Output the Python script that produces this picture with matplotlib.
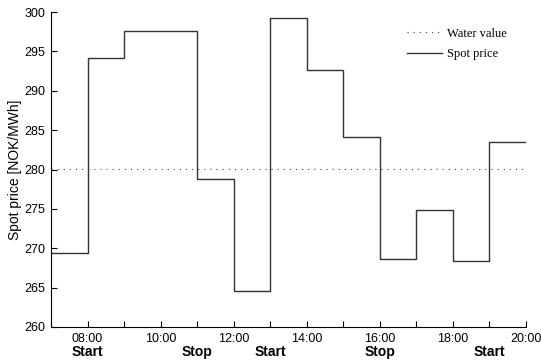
import numpy as np
import matplotlib
matplotlib.use("Agg")
import matplotlib.pyplot as plt

# hourly spot price (start of each hour) and the water value
hours = [7, 8, 9, 10, 11, 12, 13, 14, 15, 16, 17, 18, 19]
prices = [269.4, 294.2, 297.6, 297.6, 278.8, 264.6, 299.3, 292.7, 284.1, 268.6, 274.9, 268.4, 283.5]
water_value = 280.1

tick_hours = [8, 10, 12, 14, 16, 18, 20]
events = [(8, "Start"), (11, "Stop"), (13, "Start"), (16, "Stop"), (19, "Start")]

plt.rcParams["font.family"] = ["Liberation Sans", "DejaVu Sans"]

fig = plt.figure(figsize=(5.41, 3.62), dpi=100)
ax = fig.add_axes([0.0943, 0.0967, 0.878, 0.870])

ax.axhline(water_value, color="#444444", linestyle=(0, (1, 4.5)), linewidth=0.8, label="Water value")
ax.step(hours + [20], prices + [prices[-1]], where="post", color="#333333", linewidth=1.0, label="Spot price")

ax.set_xlim(7, 20)
ax.set_ylim(260, 300)
ax.set_yticks(np.arange(260, 301, 5))
ax.set_xticks(range(7, 21))
ax.set_xticklabels(["%02d:00" % h if h in tick_hours else "" for h in range(7, 21)])
ax.tick_params(direction="in", length=4, width=0.8, labelsize=9, pad=4)
ax.spines["top"].set_visible(False)
ax.spines["right"].set_visible(False)
ax.set_ylabel("Spot price [NOK/MWh]", fontsize=10, labelpad=2)

for h, txt in events:
    ax.annotate(txt, xy=(h, 0), xycoords=("data", "axes fraction"), xytext=(0, -18),
                textcoords="offset points", ha="center", va="center",
                fontsize=10, fontweight="bold")

leg = ax.legend(loc="upper left", bbox_to_anchor=(0.749, 0.95), frameon=False,
                prop={"family": "Liberation Serif", "size": 9},
                handlelength=2.8, handletextpad=0.4, labelspacing=0.65,
                borderpad=0, borderaxespad=0)

fig.savefig("out.png", dpi=100)
